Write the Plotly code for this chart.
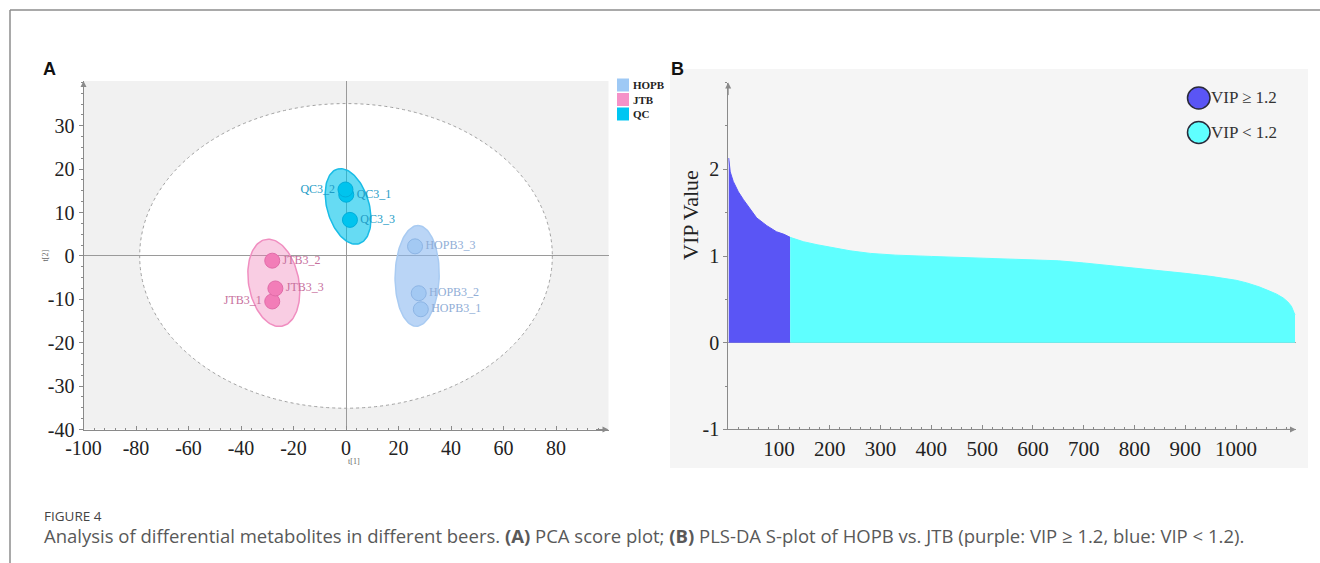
import numpy as np
import plotly.graph_objects as go

W, H = 1320, 563

# ---------------- Panel A data (PCA scores) ----------------
sample_labels = ['HOPB3_1', 'HOPB3_2', 'HOPB3_3', 'JTB3_1', 'JTB3_2', 'JTB3_3', 'QC3_1', 'QC3_2', 'QC3_3']
sample_groups = ['HOPB', 'HOPB', 'HOPB', 'JTB', 'JTB', 'JTB', 'QC', 'QC', 'QC']
t1_scores = [28.5, 27.7, 26.3, -28.1, -28.1, -26.9, 0.1, -0.2, 1.5]
t2_scores = [-12.3, -8.6, 2.2, -10.5, -1.1, -7.5, 14.1, 15.3, 8.3]
label_side = ['middle right', 'middle right', 'middle right', 'middle left', 'middle right',
              'middle right', 'middle right', 'middle left', 'middle right']

group_names = ['HOPB', 'JTB', 'QC']
# confidence ellipse parameters: centre, first and second semi-axis vectors (t[1], t[2] units)
ell_center_x = [27.1, -27.5, 0.8]
ell_center_y = [-4.6, -6.2, 11.4]
ell_u = [(0.4, 11.6), (3.07, -10.0), (-4.1, 8.6)]
ell_v = [(8.4, -0.1), (9.4, 1.06), (7.7, 1.34)]
hotelling_rx, hotelling_ry = 78.6, 35.1

a_xticks = [-100, -80, -60, -40, -20, 0, 20, 40, 60, 80]
a_yticks = [-40, -30, -20, -10, 0, 10, 20, 30]

# ---------------- Panel B data (sorted VIP values) ----------------
vip_rank_hi = [1, 4, 10, 20, 30, 43, 56, 76, 95, 110, 122]
vip_val_hi = [2.13, 1.97, 1.86, 1.74, 1.65, 1.54, 1.44, 1.35, 1.28, 1.25, 1.215]
vip_rank_lo = [122, 148, 175, 200, 240, 280, 330, 400, 450, 530, 600, 650, 700, 750, 800,
               850, 900, 950, 1000, 1021, 1045, 1066, 1080, 1093, 1102, 1109, 1113, 1116]
vip_val_lo = [1.215, 1.165, 1.13, 1.10, 1.06, 1.03, 1.01, 0.995, 0.985, 0.975, 0.96, 0.945, 0.92, 0.89, 0.865,
              0.835, 0.80, 0.765, 0.72, 0.69, 0.645, 0.595, 0.56, 0.515, 0.47, 0.42, 0.37, 0.32]
b_xticks = [100, 200, 300, 400, 500, 600, 700, 800, 900, 1000]
b_yticks = [-1, 0, 1, 2]

# ---------------- styles ----------------
marker_col = {'HOPB': '#A3C9F3', 'JTB': '#F27DB8', 'QC': '#00C4EE'}
marker_line = {'HOPB': '#8DB5E5', 'JTB': '#E06CA8', 'QC': '#00AEDB'}
label_col = {'HOPB': '#8FADD6', 'JTB': '#C7709D', 'QC': '#1E9CC6'}
ell_fill = {'HOPB': 'rgba(140,185,240,0.6)', 'JTB': 'rgba(240,130,185,0.4)', 'QC': 'rgba(0,195,235,0.6)'}
ell_line = {'HOPB': '#A9CBF2', 'JTB': '#F08EC0', 'QC': '#19BCE6'}
legend_sq = {'HOPB': '#9EC9F5', 'JTB': '#F592C8', 'QC': '#00C6F2'}
col_hi = '#5A55F5'
col_lo = '#5FFFFF'
axis_col = '#8A8A8A'
serif = 'Liberation Serif, Times New Roman, serif'


def px(x):
    return x / W


def py(y):
    return 1 - y / H


fig = go.Figure()

# group ellipses
tt = np.linspace(0, 2 * np.pi, 121)
for i, g in enumerate(group_names):
    ux, uy = ell_u[i]
    vx, vy = ell_v[i]
    ex = ell_center_x[i] + np.cos(tt) * ux + np.sin(tt) * vx
    ey = ell_center_y[i] + np.cos(tt) * uy + np.sin(tt) * vy
    fig.add_trace(go.Scatter(x=ex, y=ey, mode='lines', fill='toself', fillcolor=ell_fill[g],
                             line=dict(color=ell_line[g], width=1.5), hoverinfo='skip',
                             showlegend=False, xaxis='x', yaxis='y'))

# sample points
for g in group_names:
    idx = [k for k, s in enumerate(sample_groups) if s == g]
    fig.add_trace(go.Scatter(
        x=[t1_scores[k] for k in idx], y=[t2_scores[k] for k in idx],
        text=[sample_labels[k] for k in idx], textposition=[label_side[k] for k in idx],
        mode='markers+text', name=g,
        marker=dict(size=15, color=marker_col[g], line=dict(color=marker_line[g], width=1)),
        textfont=dict(family=serif, size=12, color=label_col[g]),
        showlegend=False, xaxis='x', yaxis='y'))

# VIP areas
fig.add_trace(go.Scatter(x=vip_rank_hi, y=vip_val_hi, mode='lines', fill='tozeroy',
                         fillcolor=col_hi, line=dict(color=col_hi, width=1), name='VIP ≥ 1.2',
                         showlegend=False, xaxis='x2', yaxis='y2'))
fig.add_trace(go.Scatter(x=vip_rank_lo, y=vip_val_lo, mode='lines', fill='tozeroy',
                         fillcolor=col_lo, line=dict(color=col_lo, width=1), name='VIP < 1.2',
                         showlegend=False, xaxis='x2', yaxis='y2'))

shapes = []
# outer frame
shapes.append(dict(type='line', xref='paper', yref='paper', x0=px(10), x1=1, y0=py(10), y1=py(10),
                   line=dict(color='#8C8C8C', width=1.5)))
shapes.append(dict(type='line', xref='paper', yref='paper', x0=px(10), x1=px(10), y0=py(10), y1=0,
                   line=dict(color='#8C8C8C', width=1.5)))
# panel B background
shapes.append(dict(type='rect', xref='paper', yref='paper', x0=px(670), x1=px(1308), y0=py(468), y1=py(69),
                   fillcolor='#F5F5F5', line=dict(width=0), layer='below'))
# Hotelling ellipse
shapes.append(dict(type='circle', xref='x', yref='y', x0=-hotelling_rx, x1=hotelling_rx,
                   y0=-hotelling_ry, y1=hotelling_ry, fillcolor='white',
                   line=dict(color='#A0A0A0', width=1, dash='dot'), layer='below'))
# legend A squares
for i, g in enumerate(group_names):
    yc = 85 + i * 14.5
    shapes.append(dict(type='rect', xref='paper', yref='paper', x0=px(617), x1=px(629),
                       y0=py(yc + 6.5), y1=py(yc - 6.5), fillcolor=legend_sq[g], line=dict(width=0)))
# legend B circles
for i, c in enumerate([col_hi, col_lo]):
    yc = 98 + i * 34.5
    shapes.append(dict(type='circle', xref='paper', yref='paper', x0=px(1187.5), x1=px(1210),
                       y0=py(yc + 11), y1=py(yc - 11), fillcolor=c, line=dict(color='#2A2A3A', width=1.5)))

annotations = []
for i, g in enumerate(group_names):
    yc = 85 + i * 14.5
    annotations.append(dict(xref='paper', yref='paper', x=px(631), y=py(yc), text='<b>%s</b>' % g,
                            showarrow=False, xanchor='left', yanchor='middle',
                            font=dict(family=serif, size=11, color='#222')))
for i, t in enumerate(['VIP ≥ 1.2', 'VIP < 1.2']):
    yc = 98 + i * 34.5
    annotations.append(dict(xref='paper', yref='paper', x=px(1209), y=py(yc), text=t,
                            showarrow=False, xanchor='left', yanchor='middle',
                            font=dict(family=serif, size=17, color='#333')))
# axis arrows
annotations.append(dict(xref='x', yref='y', x=-100, y=40.3, ax=0, ay=14, axref='pixel', ayref='pixel',
                        text='', showarrow=True, arrowhead=2, arrowsize=1.2, arrowwidth=1, arrowcolor=axis_col))
annotations.append(dict(xref='x', yref='y', x=100, y=-40, ax=-14, ay=0, axref='pixel', ayref='pixel',
                        text='', showarrow=True, arrowhead=2, arrowsize=1.2, arrowwidth=1, arrowcolor=axis_col))
annotations.append(dict(xref='x2', yref='y2', x=0, y=3, ax=0, ay=14, axref='pixel', ayref='pixel',
                        text='', showarrow=True, arrowhead=2, arrowsize=1.2, arrowwidth=1, arrowcolor=axis_col))
annotations.append(dict(xref='x2', yref='y2', x=1118, y=-1, ax=-14, ay=0, axref='pixel', ayref='pixel',
                        text='', showarrow=True, arrowhead=2, arrowsize=1.2, arrowwidth=1, arrowcolor=axis_col))
# axis titles
annotations.append(dict(xref='paper', yref='paper', x=px(346), y=py(468), text='t[1]', showarrow=False,
                        font=dict(family=serif, size=8, color='#666')))
annotations.append(dict(xref='paper', yref='paper', x=px(38), y=py(256), text='t[2]', showarrow=False,
                        textangle=-90, font=dict(family=serif, size=8, color='#666')))
annotations.append(dict(xref='paper', yref='paper', x=px(691), y=py(215), text='VIP Value', showarrow=False,
                        textangle=-90, font=dict(family=serif, size=22, color='#222')))
# panel letters
annotations.append(dict(xref='paper', yref='paper', x=px(41), y=py(57), text='<b>A</b>', showarrow=False,
                        font=dict(family='Liberation Sans, Arial, sans-serif', size=18, color='#111')))
annotations.append(dict(xref='paper', yref='paper', x=px(677), y=py(57), text='<b>B</b>', showarrow=False,
                        font=dict(family='Liberation Sans, Arial, sans-serif', size=18, color='#111')))
# caption
annotations.append(dict(xref='paper', yref='paper', x=px(42), y=py(516), text='FIGURE 4', showarrow=False,
                        xanchor='left', yanchor='middle',
                        font=dict(family='Open Sans, sans-serif', size=13.5, color='#444')))
annotations.append(dict(xref='paper', yref='paper', x=px(42), y=py(535),
                        text='Analysis of differential metabolites in different beers. <b>(A)</b> PCA score plot; '
                             '<b>(B)</b> PLS-DA S-plot of HOPB vs. JTB (purple: VIP ≥ 1.2, blue: VIP &lt; 1.2).',
                        showarrow=False, xanchor='left', yanchor='middle',
                        font=dict(family='Open Sans, sans-serif', size=18.5, color='#595959')))

tickfont = dict(family=serif, size=20, color='#222')
common = dict(showline=True, linecolor=axis_col, linewidth=1, ticklen=4,
              tickcolor=axis_col, showgrid=False, tickfont=tickfont, automargin=False)

fig.update_layout(
    width=W, height=H, margin=dict(l=0, r=0, t=0, b=0, autoexpand=False),
    paper_bgcolor='white', plot_bgcolor='#F1F1F1', showlegend=False,
    xaxis=dict(domain=[px(83.5), px(608.5)], range=[-100, 100], tickvals=a_xticks,
               ticktext=[str(v) for v in a_xticks], ticks='inside',
               zeroline=True, zerolinecolor='#9A9A9A', zerolinewidth=1, anchor='y',
               minor=dict(ticks='inside', ticklen=2, dtick=4, tick0=-100, tickcolor=axis_col), **common),
    yaxis=dict(domain=[py(429.5), py(81)], range=[-40, 40.3], tickvals=a_yticks,
               ticktext=[str(v) for v in a_yticks], ticks='outside',
               zeroline=True, zerolinecolor='#9A9A9A', zerolinewidth=1, anchor='x',
               minor=dict(ticks='outside', ticklen=2, dtick=2.5, tick0=-40, tickcolor=axis_col), **common),
    xaxis2=dict(domain=[px(728.2), px(1296)], range=[0, 1118], tickvals=b_xticks,
                ticktext=[str(v) for v in b_xticks], zeroline=False, anchor='y2', ticks='inside',
                minor=dict(ticks='inside', ticklen=2, dtick=20, tick0=0, tickcolor=axis_col), **common),
    yaxis2=dict(domain=[py(429.4), py(82.6)], range=[-1, 3], tickvals=b_yticks,
                ticktext=[str(v) for v in b_yticks], ticks='outside',
                zeroline=True, zerolinecolor='#AAAAAA', zerolinewidth=1, anchor='x2',
                minor=dict(ticks='outside', ticklen=2, dtick=0.5, tick0=-1, tickcolor=axis_col), **common),
    shapes=shapes, annotations=annotations,
)
fig.update_layout(xaxis2_tickfont=dict(family=serif, size=21, color='#222'))

fig.write_html('out.html', config={'displayModeBar': False},
               post_script="document.body.style.margin='0px';document.body.style.overflow='hidden';")
